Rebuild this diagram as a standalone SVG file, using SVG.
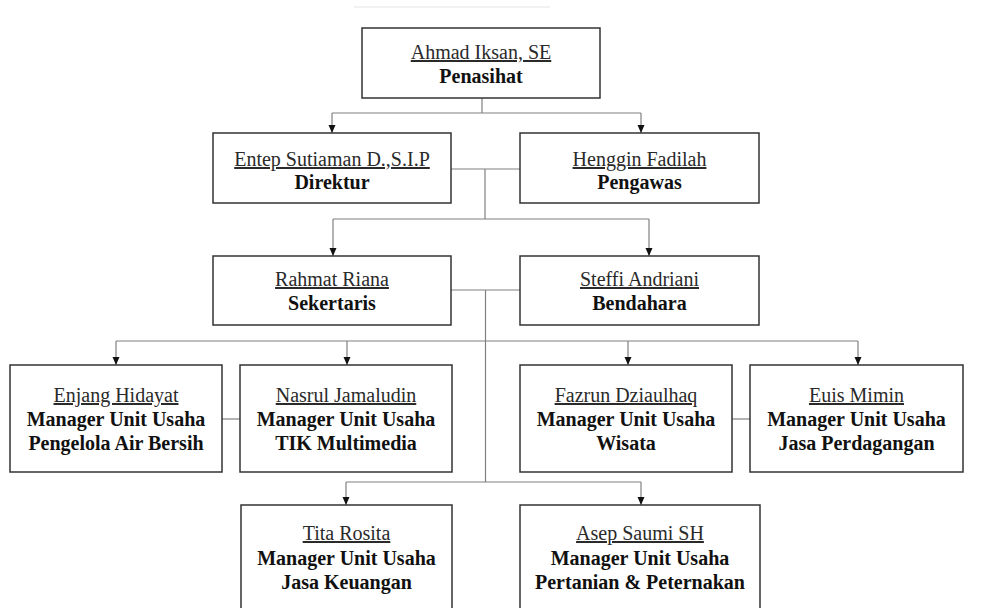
<svg xmlns="http://www.w3.org/2000/svg" width="984" height="608" viewBox="0 0 984 608">
<style>
.box{fill:#fff;stroke:#333;stroke-width:1.5}
.nm{font-family:"Liberation Serif","Times New Roman",serif;font-size:20px;fill:#2a2a2a;text-anchor:middle;text-decoration:underline}
.rl{font-family:"Liberation Serif","Times New Roman",serif;font-size:20px;font-weight:bold;fill:#111;text-anchor:middle}
.cn{fill:none;stroke:#808080;stroke-width:1.2}
</style>
<defs>
<marker id="ar" markerUnits="userSpaceOnUse" markerWidth="8" markerHeight="8" refX="8" refY="4" orient="auto" viewBox="0 0 8 8">
<path d="M0,0.5 L8,4 L0,7.5 Z" fill="#111"/>
</marker>
</defs>
<rect width="984" height="608" fill="#fff"/>
<line x1="354" y1="7" x2="550" y2="7" stroke="#f2f2f2" stroke-width="2"/>
<g id="connectors">
<path class="cn" d="M482,98 V113"/>
<path class="cn" d="M332,113 H641"/>
<path class="cn" d="M332,113 V133" marker-end="url(#ar)"/>
<path class="cn" d="M641,113 V133" marker-end="url(#ar)"/>
<path class="cn" d="M451,169 H520"/>
<path class="cn" d="M485,169 V219"/>
<path class="cn" d="M333,219 H649"/>
<path class="cn" d="M333,219 V256" marker-end="url(#ar)"/>
<path class="cn" d="M649,219 V256" marker-end="url(#ar)"/>
<path class="cn" d="M451,290 H520"/>
<path class="cn" d="M485.5,290 V482"/>
<path class="cn" d="M116,341 H858"/>
<path class="cn" d="M116,341 V365" marker-end="url(#ar)"/>
<path class="cn" d="M347,341 V365" marker-end="url(#ar)"/>
<path class="cn" d="M628,341 V365" marker-end="url(#ar)"/>
<path class="cn" d="M858,341 V365" marker-end="url(#ar)"/>
<path class="cn" d="M222,419 H240"/>
<path class="cn" d="M732,419 H750"/>
<path class="cn" d="M346,482 H641"/>
<path class="cn" d="M346,482 V505" marker-end="url(#ar)"/>
<path class="cn" d="M641,482 V505" marker-end="url(#ar)"/>
</g>
<g id="penasihat">
<rect class="box" x="362" y="28" width="238" height="70"/>
<text class="nm" x="481" y="59">Ahmad Iksan, SE</text>
<text class="rl" x="481" y="83">Penasihat</text>
</g>
<g id="direktur">
<rect class="box" x="213" y="133" width="238" height="70"/>
<text class="nm" x="332" y="166">Entep Sutiaman D.,S.I.P</text>
<text class="rl" x="332" y="189">Direktur</text>
</g>
<g id="pengawas">
<rect class="box" x="520" y="133" width="239" height="70"/>
<text class="nm" x="639.5" y="166">Henggin Fadilah</text>
<text class="rl" x="639.5" y="189">Pengawas</text>
</g>
<g id="sekertaris">
<rect class="box" x="213" y="256" width="238" height="69"/>
<text class="nm" x="332" y="286">Rahmat Riana</text>
<text class="rl" x="332" y="310">Sekertaris</text>
</g>
<g id="bendahara">
<rect class="box" x="520" y="256" width="239" height="69"/>
<text class="nm" x="639.5" y="286">Steffi Andriani</text>
<text class="rl" x="639.5" y="310">Bendahara</text>
</g>
<g id="enjang">
<rect class="box" x="10" y="365" width="212" height="107"/>
<text class="nm" x="116" y="402">Enjang Hidayat</text>
<text class="rl" x="116" y="426">Manager Unit Usaha</text>
<text class="rl" x="116" y="450">Pengelola Air Bersih</text>
</g>
<g id="nasrul">
<rect class="box" x="240" y="365" width="212" height="107"/>
<text class="nm" x="346" y="402">Nasrul Jamaludin</text>
<text class="rl" x="346" y="426">Manager Unit Usaha</text>
<text class="rl" x="346" y="450">TIK Multimedia</text>
</g>
<g id="fazrun">
<rect class="box" x="520" y="365" width="212" height="107"/>
<text class="nm" x="626" y="402">Fazrun Dziaulhaq</text>
<text class="rl" x="626" y="426">Manager Unit Usaha</text>
<text class="rl" x="626" y="450">Wisata</text>
</g>
<g id="euis">
<rect class="box" x="750" y="365" width="213" height="107"/>
<text class="nm" x="856.5" y="402">Euis Mimin</text>
<text class="rl" x="856.5" y="426">Manager Unit Usaha</text>
<text class="rl" x="856.5" y="450">Jasa Perdagangan</text>
</g>
<g id="tita">
<rect class="box" x="241" y="505" width="211" height="120"/>
<text class="nm" x="346.5" y="540">Tita Rosita</text>
<text class="rl" x="346.5" y="565">Manager Unit Usaha</text>
<text class="rl" x="346.5" y="589">Jasa Keuangan</text>
</g>
<g id="asep">
<rect class="box" x="520" y="505" width="240" height="120"/>
<text class="nm" x="640" y="540">Asep Saumi SH</text>
<text class="rl" x="640" y="565">Manager Unit Usaha</text>
<text class="rl" x="640" y="589">Pertanian &amp; Peternakan</text>
</g>
</svg>
